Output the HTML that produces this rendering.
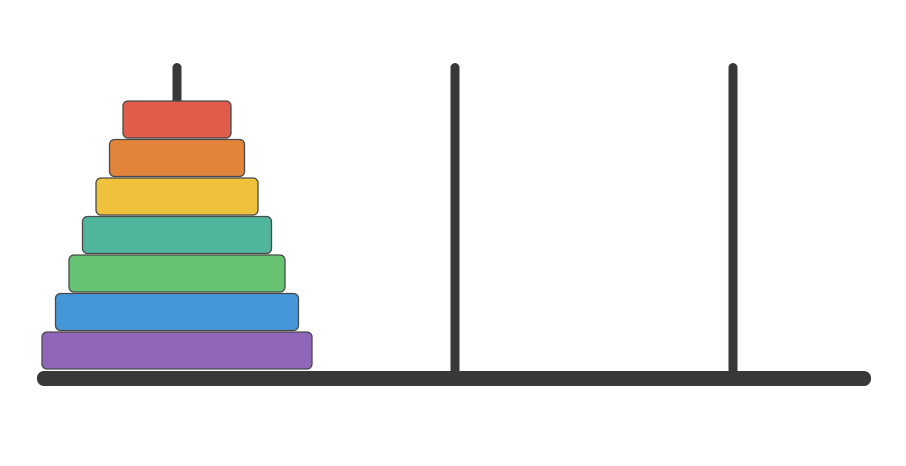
<!DOCTYPE html>
<html><head><meta charset="utf-8"><style>
html,body{margin:0;padding:0;background:#fff;width:906px;height:466px;overflow:hidden}
</style></head><body>
<svg width="906" height="466">
<rect x="0" y="0" width="906" height="466" fill="#fff"/>
<g id="pegs"></g>
<rect x="37" y="371" width="834" height="15" rx="7" fill="#383838"/>
<g id="disks"></g>
</svg>
<script>
const pegX=[177,455,733];
const diskWidths=[108,135,162,189,216,243,270];
const diskColors=["#e05d4b","#e2843a","#efc23b","#4fb59d","#66c371","#4597d9","#9066b8"];
const NS="http://www.w3.org/2000/svg";
const pg=document.getElementById('pegs');
pegX.forEach((x,i)=>{
  const r=document.createElementNS(NS,'rect');
  const h = i===0 ? 45 : 318;
  r.setAttribute('x',x-4.5);r.setAttribute('y',63);r.setAttribute('width',9);r.setAttribute('height',h);r.setAttribute('rx',4.5);r.setAttribute('fill','#383838');
  
  
  pg.appendChild(r);
});
const dg=document.getElementById('disks');
diskWidths.forEach((w,i)=>{
  const r=document.createElementNS(NS,'rect');
  const y=101+i*38.5;
  r.setAttribute('x',pegX[0]-w/2);r.setAttribute('y',y);r.setAttribute('width',w);r.setAttribute('height',37);r.setAttribute('rx',5);
  r.setAttribute('fill',diskColors[i]);r.setAttribute('stroke','#4a4a4a');r.setAttribute('stroke-width',1.3);
  
  
  dg.appendChild(r);
});
</script>
</body></html>
